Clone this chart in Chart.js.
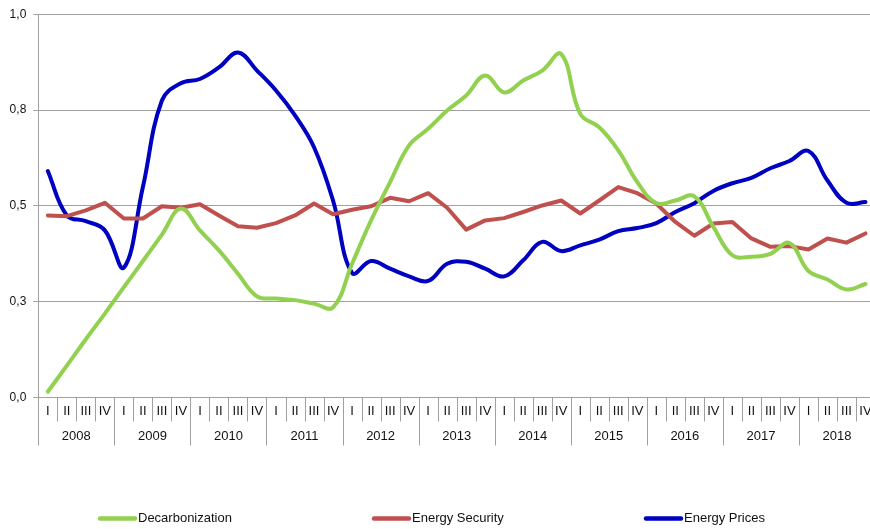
<!DOCTYPE html>
<html>
<head>
<meta charset="utf-8">
<script src="https://cdn.jsdelivr.net/npm/chart.js@4"></script>
<style>
  html, body { margin: 0; padding: 0; background: #fff; overflow: hidden; }
  #wrap { width: 880px; height: 529px; }
</style>
</head>
<body>
<div id="wrap"><canvas id="energyChart" width="880" height="529"></canvas></div>
<script>
const years = ["2008", "2009", "2010", "2011", "2012", "2013", "2014", "2015", "2016", "2017", "2018"];
const quarters = ["I", "II", "III", "IV"];
const labels = years.flatMap((y) => quarters.map((q) => q + " " + y));

const decarbonization = [
  0.015, 0.083, 0.152, 0.219, 0.288, 0.356, 0.425, 0.493, 0.436, 0.384, 0.323,
  0.264, 0.258, 0.254, 0.245, 0.235, 0.349, 0.462, 0.562, 0.658, 0.701, 0.749,
  0.788, 0.840, 0.796, 0.827, 0.853, 0.896, 0.740, 0.705, 0.645, 0.562, 0.507,
  0.514, 0.525, 0.445, 0.371, 0.367, 0.375, 0.403, 0.330, 0.308, 0.282, 0.296,
];
const energySecurity = [
  0.475, 0.473, 0.488, 0.508, 0.467, 0.467, 0.499, 0.495, 0.504, 0.475, 0.447,
  0.443, 0.455, 0.475, 0.506, 0.478, 0.490, 0.499, 0.521, 0.512, 0.533, 0.495,
  0.438, 0.462, 0.468, 0.484, 0.501, 0.514, 0.480, 0.514, 0.549, 0.533, 0.506,
  0.458, 0.422, 0.454, 0.458, 0.415, 0.393, 0.395, 0.386, 0.415, 0.404, 0.428,
];
const energyPrices = [
  0.591, 0.475, 0.460, 0.436, 0.339, 0.549, 0.775, 0.820, 0.831, 0.861, 0.900,
  0.853, 0.801, 0.736, 0.653, 0.514, 0.325, 0.356, 0.336, 0.316, 0.304, 0.349,
  0.354, 0.336, 0.316, 0.358, 0.406, 0.382, 0.397, 0.412, 0.434, 0.442, 0.455,
  0.484, 0.507, 0.539, 0.559, 0.573, 0.598, 0.617, 0.643, 0.566, 0.508, 0.510,
];

const gridColor = "#a0a0a0";
const fontFamily = "'Liberation Sans', Arial, sans-serif";

// quarter / year labels under the plot, placed with the x scale
const axisLabels = {
  id: "axisLabels",
  afterDraw(chart) {
    const ctx = chart.ctx;
    const x = chart.scales.x;
    const bottom = chart.chartArea.bottom;
    const step = x.getPixelForValue(1) - x.getPixelForValue(0);
    ctx.save();
    ctx.strokeStyle = gridColor;
    ctx.lineWidth = 1;
    for (let i = 0; i <= labels.length; i++) {
      const px = Math.round(x.getPixelForValue(i) - step / 2) + 0.5;
      ctx.beginPath();
      ctx.moveTo(px, bottom);
      ctx.lineTo(px, bottom + (i % 4 === 0 ? 48 : 24));
      ctx.stroke();
    }
    ctx.fillStyle = "#111";
    ctx.textAlign = "center";
    ctx.textBaseline = "middle";
    ctx.font = "13px " + fontFamily;
    labels.forEach((l, i) => {
      ctx.fillText(quarters[i % 4], x.getPixelForValue(i), bottom + 14);
    });
    years.forEach((y, k) => {
      const cx = (x.getPixelForValue(4 * k) + x.getPixelForValue(4 * k + 3)) / 2;
      ctx.fillText(y, cx, bottom + 39);
    });
    ctx.restore();
  },
};

// legend spread across the bottom
const wideLegend = {
  id: "wideLegend",
  afterDraw(chart) {
    const ctx = chart.ctx;
    const starts = [98, 372, 644];
    ctx.save();
    ctx.font = "13px " + fontFamily;
    ctx.textBaseline = "middle";
    ctx.textAlign = "left";
    chart.data.datasets.forEach((ds, i) => {
      const x0 = starts[i];
      const y = 518.5;
      ctx.strokeStyle = ds.borderColor;
      ctx.lineWidth = 4.5;
      ctx.lineCap = "round";
      ctx.beginPath();
      ctx.moveTo(x0 + 2, y);
      ctx.lineTo(x0 + 37, y);
      ctx.stroke();
      ctx.fillStyle = "#111";
      ctx.fillText(ds.label, x0 + 40, y);
    });
    ctx.restore();
  },
};

const canvas = document.querySelector("#energyChart");
const energyChart = new Chart(canvas, {
  type: "line",
  data: {
    labels: labels,
    datasets: [
      {
        label: "Decarbonization",
        data: decarbonization,
        borderColor: "#92d050",
        borderWidth: 4,
        tension: 0.4,
        pointRadius: 0,
        borderCapStyle: "round",
        borderJoinStyle: "round",
      },
      {
        label: "Energy Security",
        data: energySecurity,
        borderColor: "#c0504d",
        borderWidth: 4,
        tension: 0,
        pointRadius: 0,
        borderCapStyle: "round",
        borderJoinStyle: "round",
      },
      {
        label: "Energy Prices",
        data: energyPrices,
        borderColor: "#0000c0",
        borderWidth: 4,
        tension: 0.4,
        pointRadius: 0,
        borderCapStyle: "round",
        borderJoinStyle: "round",
      },
    ],
  },
  options: {
    responsive: false,
    animation: false,
    layout: {
      padding: { top: 13, right: 5, bottom: 131.5, left: 0 },
    },
    scales: {
      x: {
        display: false,
        offset: true,
      },
      y: {
        min: 0,
        max: 1,
        afterFit(scale) {
          scale.width = 38.3;
        },
        border: { color: gridColor, width: 1 },
        grid: {
          color: gridColor,
          lineWidth: 1,
          tickLength: 5,
        },
        ticks: {
          stepSize: 0.25,
          padding: 7,
          color: "#111",
          font: { size: 12, family: fontFamily },
          callback: (v) => v.toFixed(1).replace(".", ","),
        },
      },
    },
    plugins: {
      legend: { display: false },
      tooltip: { enabled: false },
    },
  },
  plugins: [axisLabels, wideLegend],
});
</script>
</body>
</html>
